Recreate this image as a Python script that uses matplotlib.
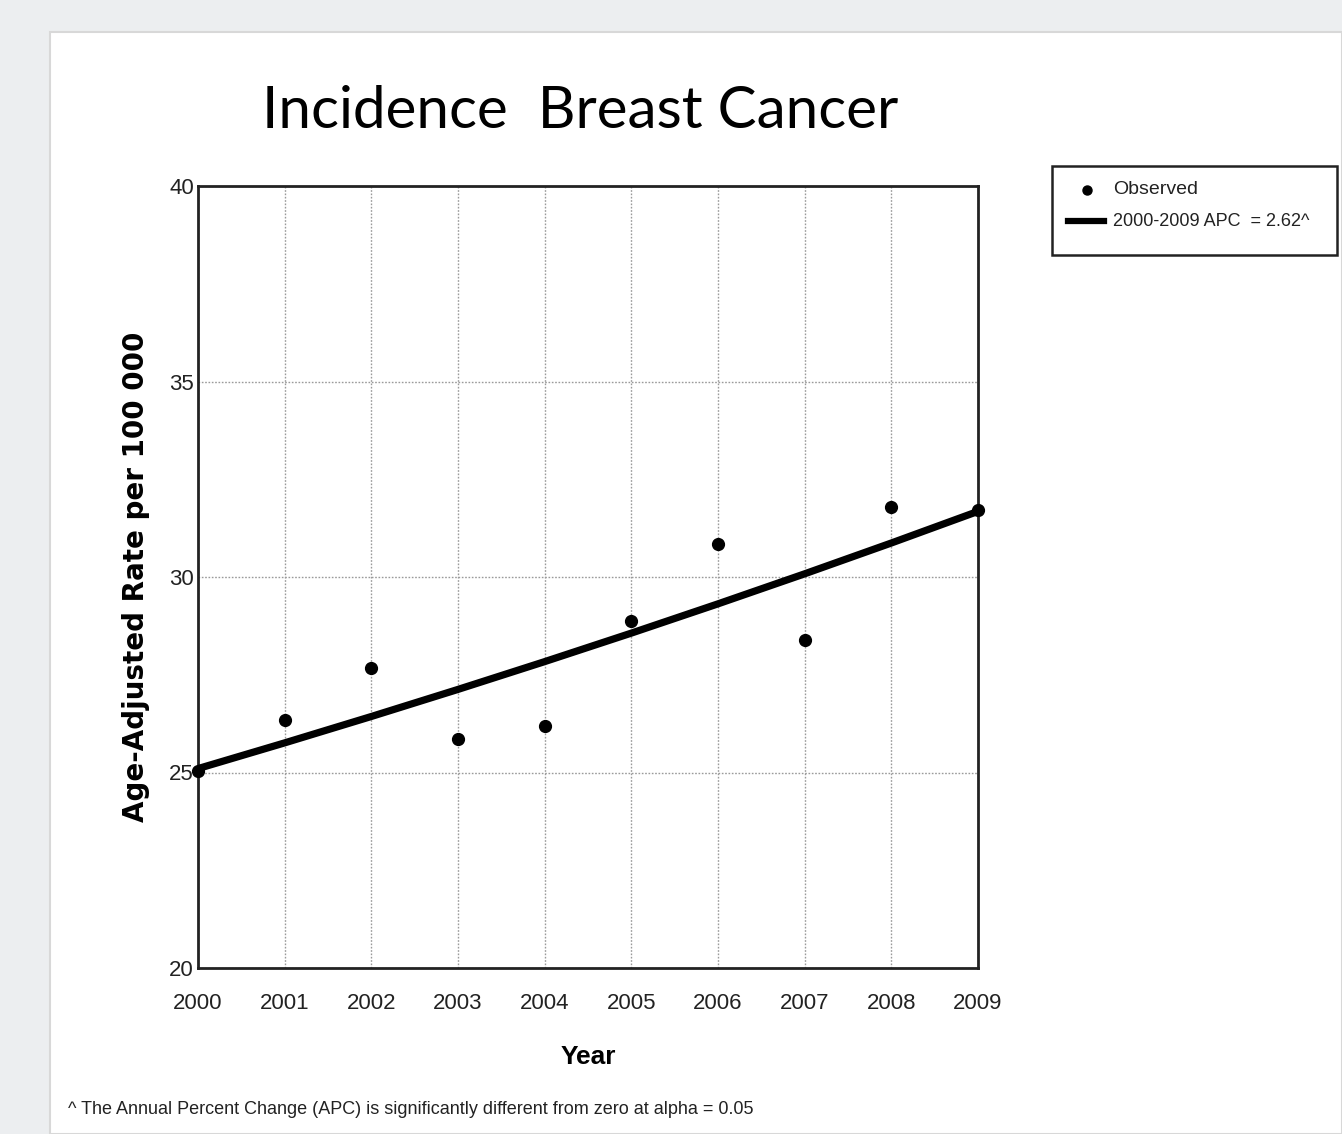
import matplotlib
matplotlib.use("Agg")
import matplotlib.pyplot as plt
from matplotlib.patches import Rectangle
import numpy as np

years = [2000, 2001, 2002, 2003, 2004, 2005, 2006, 2007, 2008, 2009]
observed = [25.05, 26.35, 27.68, 25.86, 26.19, 28.88, 30.84, 28.40, 31.79, 31.71]
fit_start = 25.10
apc = 2.62
yticks = [20, 25, 30, 35, 40]
title = "Incidence  Breast Cancer"
ylabel = "Age-Adjusted Rate per 100 000"
xlabel = "Year"
legend_obs = "Observed"
legend_fit = "2000-2009 APC  = 2.62^"
footnote = "^ The Annual Percent Change (APC) is significantly different from zero at alpha = 0.05"

fit = [fit_start * (1 + apc / 100) ** (y - years[0]) for y in years]

W, H = 1342, 1134
fig = plt.figure(figsize=(W / 100, H / 100), dpi=100)
fig.patch.set_facecolor("#eceef0")

# white slide card
card = Rectangle((50 / W, 0), 1 - 50 / W, 1 - 32 / H, transform=fig.transFigure,
                 facecolor="white", edgecolor="#d8d8d8", lw=1.5, zorder=-10)
fig.patches.append(card)

narrow = ["Liberation Sans", "DejaVu Sans"]

ax = fig.add_axes([198 / W, 1 - 968 / H, (978 - 198) / W, (968 - 186) / H])
ax.set_facecolor("white")
ax.set_xlim(years[0], years[-1])
ax.set_ylim(yticks[0], yticks[-1])
ax.set_xticks(years)
ax.set_yticks(yticks)
ax.set_xticklabels([str(y) for y in years], fontfamily=narrow, fontsize=16, color="#222222")
ax.set_yticklabels([str(v) for v in yticks], fontfamily=narrow, fontsize=16, color="#222222")
ax.tick_params(length=0)
ax.tick_params(axis="x", pad=18)
ax.tick_params(axis="y", pad=3)
ax.grid(True, color="#9a9a9a", linestyle=(0, (1.2, 1.2)), linewidth=1.0)
for s in ax.spines.values():
    s.set_linewidth(2.0)
    s.set_color("#222222")

ax.plot(years, fit, color="black", lw=5.2, solid_capstyle="butt", zorder=3, clip_on=False)
ax.plot(years, observed, linestyle="none", marker="o", color="black", ms=8.5, zorder=4, clip_on=False)

ax.set_xlabel(xlabel, fontfamily="Liberation Sans", fontweight="bold", fontsize=19, labelpad=22)
ax.set_ylabel(ylabel, fontfamily="DejaVu Sans", fontweight="bold", fontsize=20, labelpad=14)

fig.text(580 / W, 1 - 112 / H, title, fontfamily="Lato", fontsize=42, ha="center", va="center")

# legend box
lx0, ly0, lx1, ly1 = 1052, 166, 1337, 255
fig.patches.append(Rectangle((lx0 / W, 1 - ly1 / H), (lx1 - lx0) / W, (ly1 - ly0) / H,
                             transform=fig.transFigure, facecolor="white",
                             edgecolor="#222222", lw=1.8, zorder=1))
fig.lines.append(plt.Line2D([1087 / W], [1 - 190 / H], marker="o", ms=6.5, color="black",
                            linestyle="none", transform=fig.transFigure, zorder=3))
fig.lines.append(plt.Line2D([1068 / W, 1104 / W], [1 - 221 / H, 1 - 221 / H], lw=4.5,
                            color="black", transform=fig.transFigure, zorder=3))
fig.text(1113 / W, 1 - 190 / H, legend_obs, fontfamily=narrow, fontsize=14, va="center", color="#222222", zorder=3)
fig.text(1113 / W, 1 - 221 / H, legend_fit, fontfamily=narrow, fontsize=13, va="center", color="#222222", zorder=3)

fig.text(68 / W, 1 - 1109 / H, footnote, fontfamily=narrow, fontsize=13, va="center", color="#222222")

fig.savefig("out.png", dpi=100, facecolor=fig.get_facecolor())
